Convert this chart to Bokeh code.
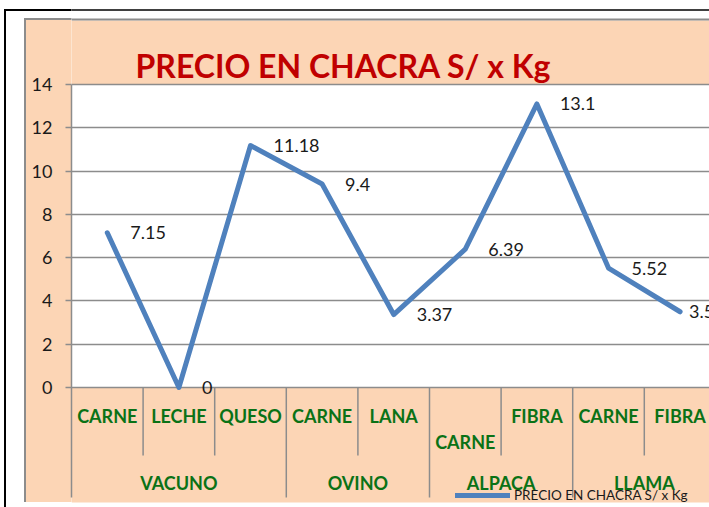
from bokeh.plotting import figure
from bokeh.models import Range1d, FixedTicker
from bokeh.core.properties import value
from bokeh.embed import file_html
from bokeh.resources import INLINE

# ---------------- data ----------------
title_text = "PRECIO EN CHACRA S/ x Kg"
series_name = "PRECIO EN CHACRA S/ x Kg"
categories = ["CARNE", "LECHE", "QUESO", "CARNE", "LANA", "CARNE", "FIBRA", "CARNE", "FIBRA"]
groups = ["VACUNO", "OVINO", "ALPACA", "LLAMA"]
group_sizes = [3, 2, 2, 2]
prices = [7.15, 0, 11.18, 9.4, 3.37, 6.39, 13.1, 5.52, 3.5]
y_ticks = [0, 2, 4, 6, 8, 10, 12, 14]

# ---------------- style / layout ----------------
PEACH = "#FCD5B5"
GRAY = "#8C8C8C"
BLUE = "#4F81BD"
GREEN = "#0A7216"
RED = "#C00000"
TXT = "#1A1A1A"
FONT = "Lato"

W, H = 709, 507
FRAME_LEFT = 71            # px
PX_PER_CAT = 71.6
PX_PER_UNIT = 303 / 14
ZERO_Y = 387               # px of value 0

x_end = (W - FRAME_LEFT) / PX_PER_CAT
y_top = ZERO_Y / PX_PER_UNIT
y_bot = -(H - ZERO_Y) / PX_PER_UNIT


def dy(py):
    return (ZERO_Y - py) / PX_PER_UNIT


def dx(px):
    return (px - FRAME_LEFT) / PX_PER_CAT


# background of the area left of the plot frame (outer border, chart area)
bg = ", ".join([
    f"linear-gradient({PEACH},{PEACH}) 26px 20px / 2000px 482px no-repeat",
    f"linear-gradient({GRAY},{GRAY}) 24px 18px / 2000px 484px no-repeat",
    "linear-gradient(#fff,#fff) 6px 11px / 2000px 2000px no-repeat",
    "linear-gradient(#000,#000) 4px 9px / 2000px 2000px no-repeat",
    "#fff",
])

p = figure(width=W, height=H, title=None,
           x_range=Range1d(0, x_end), y_range=Range1d(y_bot, y_top),
           output_backend="svg", toolbar_location=None, x_axis_location=None,
           min_border_left=FRAME_LEFT, min_border_right=0,
           min_border_top=0, min_border_bottom=0,
           background_fill_color="white", border_fill_color=None,
           outline_line_color=None, styles={"background": bg})

# y axis
ax = p.yaxis[0]
ax.ticker = FixedTicker(ticks=y_ticks)
ax.bounds = (dy(497), y_ticks[-1])
ax.axis_line_color = GRAY
ax.axis_line_width = 1.5
ax.major_tick_line_color = GRAY
ax.major_tick_line_width = 1.5
ax.major_tick_out = 6
ax.major_tick_in = 0
ax.minor_tick_line_color = None
ax.major_label_text_font = FONT
ax.major_label_text_font_size = "18px"
ax.major_label_text_color = TXT
ax.major_label_standoff = 13

p.ygrid.ticker = FixedTicker(ticks=y_ticks)
p.ygrid.grid_line_color = GRAY
p.ygrid.grid_line_width = 1.5
p.xgrid.grid_line_color = None

# chart-area background pieces inside the frame (peach around white plot area)
p.quad(left=[0, 0], right=[x_end + 1] * 2,
       bottom=[y_ticks[-1], dy(502)], top=[dy(20), 0],
       fill_color=PEACH, line_color=None, level="image")
# chart-area border (grey) and outer border (black) along the top
p.segment(x0=[0, 0], y0=[dy(19), dy(9.5)], x1=[x_end + 1] * 2, y1=[dy(19), dy(9.5)],
          line_color=[GRAY, "black"], line_width=[2, 1.5], level="image")

# category dividers
bounds = [0]
for s in group_sizes:
    bounds.append(bounds[-1] + s)
div_x = list(range(1, len(categories) + 1))
div_bottom = [dy(497) if i in bounds else dy(455) for i in div_x]
p.segment(x0=div_x, y0=[0] * len(div_x), x1=div_x, y1=div_bottom,
          line_color=GRAY, line_width=1.5)

# category labels
cat_row_px = [415] * len(categories)
cat_row_px[5] = 441
p.text(x=[i + 0.5 for i in range(len(categories))], y=[dy(v) for v in cat_row_px],
       text=categories, text_font=value(FONT), text_font_style="bold",
       text_font_size="18px", text_color=GREEN,
       text_align="center", text_baseline="middle")

# group labels
grp_x = [bounds[i] + group_sizes[i] / 2 for i in range(len(groups))]
p.text(x=grp_x, y=[dy(482)] * len(groups), text=groups,
       text_font=value(FONT), text_font_style="bold", text_font_size="18px",
       text_color=GREEN, text_align="center", text_baseline="middle")

# the series
xs = [i + 0.5 for i in range(len(categories))]
label_dx = [23] * len(prices)
label_dx[-1] = 9
p.line(x=xs, y=prices, line_color=BLUE, line_width=5, line_join="round",
       line_cap="round", legend_label=series_name)
p.text(x=xs, y=prices, text=[f"{v:g}" for v in prices], x_offset=label_dx,
       text_font=value(FONT), text_font_size="18px", text_color=TXT,
       text_align="left", text_baseline="middle")

# title
p.text(x=[dx(135)], y=[dy(65)], text=[title_text], text_font=value(FONT),
       text_font_style="bold", text_font_size="32px", text_color=RED,
       text_align="left", text_baseline="alphabetic")

# legend
lg = p.legend[0]
lg.location = (455 - FRAME_LEFT, 4)
lg.background_fill_alpha = 0
lg.border_line_color = None
lg.padding = 0
lg.margin = 0
lg.spacing = 0
lg.glyph_width = 55
lg.glyph_height = 14
lg.label_height = 14
lg.label_standoff = 4
lg.label_text_font = FONT
lg.label_text_font_size = "13.5px"
lg.label_text_color = TXT

open("out.html", "w").write(file_html(p, INLINE))
